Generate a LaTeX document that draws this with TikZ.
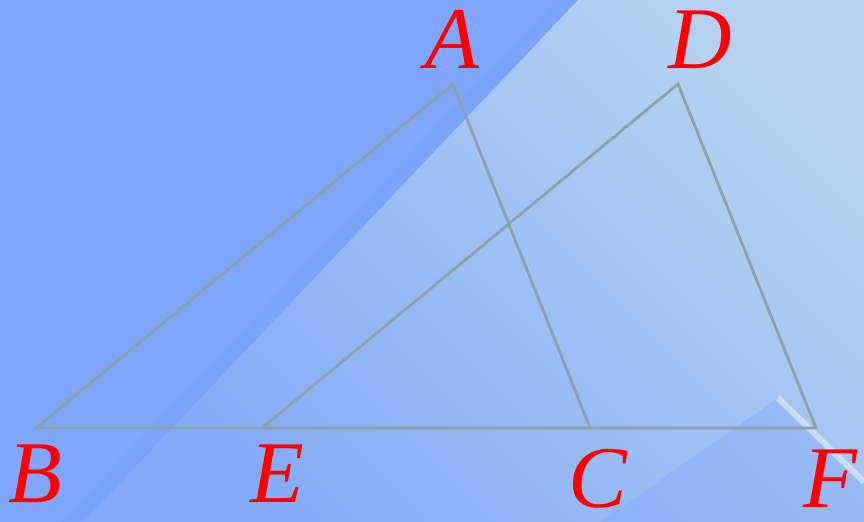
\documentclass[tikz,border=0pt]{standalone}
\usepackage{fontspec}
\setmainfont{Liberation Serif}
\usetikzlibrary{calc}
\definecolor{bgblue}{RGB}{127,166,250}
\definecolor{bgdeep}{RGB}{122,162,250}
\definecolor{bglight}{RGB}{132,170,249}
\definecolor{bgpale}{RGB}{180,210,240}
\definecolor{edgegray}{RGB}{140,162,170}
\definecolor{labelred}{RGB}{255,0,0}
\tikzset{
  side/.style={draw=edgegray,line width=1.4pt,line join=miter},
  vlabel/.style={text=labelred,font=\fontsize{44}{44}\selectfont\itshape,inner sep=0pt,anchor=base},
}

\begin{document}
\begin{tikzpicture}[x=0.5pt,y=-0.5pt]
  \useasboundingbox (0,0) rectangle (864,522);
  % background
  \fill[bgblue] (0,0) rectangle (864,522);
  \shade[top color=bgpale,bottom color=bglight,shading angle=-45] (578,0) -- (864,0) -- (864,522) -- (83,522) -- cycle;
  \fill[bgdeep,opacity=0.5] (556,0) -- (578,0) -- (83,522) -- (61,522) -- cycle;
  \fill[bgblue,opacity=0.35] (600,522) -- (778,398) -- (864,482) -- (864,522) -- cycle;
  \draw[white,opacity=0.45,line width=3pt] (778,398) -- (864,482);

  % vertices
  \coordinate (A) at (453,84);
  \coordinate (B) at (36,428);
  \coordinate (C) at (590,428);
  \coordinate (D) at (678,84);
  \coordinate (E) at (262,428);
  \coordinate (F) at (816,428);

  \draw[side] (A) -- (B) -- (C) -- cycle;
  \draw[side] (D) -- (E) -- (F) -- cycle;

  % labels
  \node[vlabel] (lA) at (452,69) {A};
  \node[vlabel] (lD) at (700,69) {D};
  \node[vlabel] (lB) at (35,503) {B};
  \node[vlabel] (lE) at (277,503) {E};
  \node[vlabel] (lC) at (598,508) {C};
  \node[vlabel] (lF) at (830,508) {F};
\end{tikzpicture}
\end{document}
